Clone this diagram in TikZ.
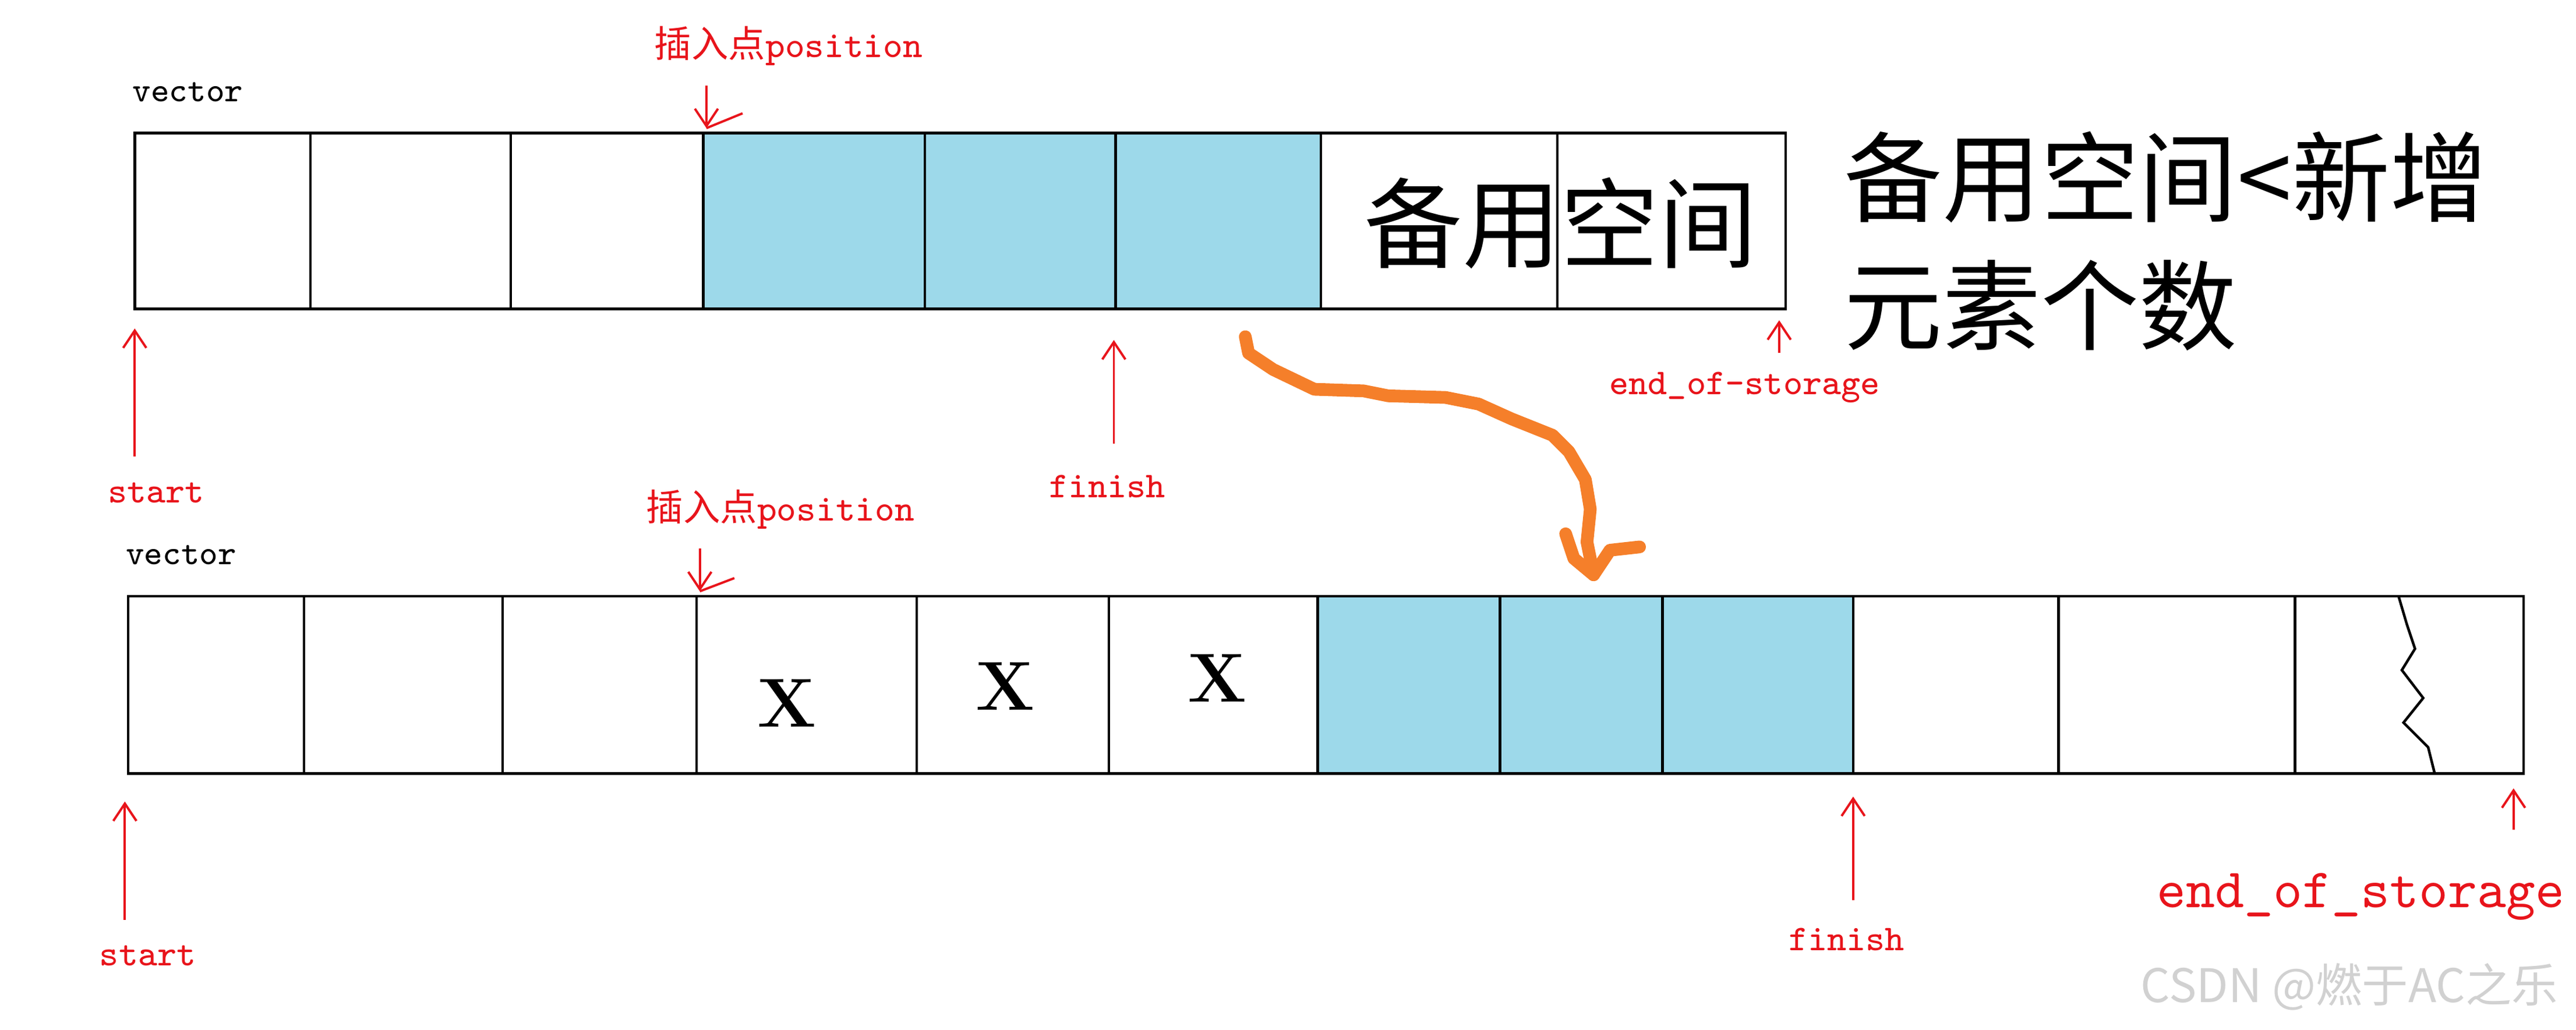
\documentclass[tikz,border=0pt]{standalone}
\usepackage{fontspec}
\newfontfamily\cjk{Noto Sans CJK SC}
\usetikzlibrary{arrows.meta}
\definecolor{cellblue}{HTML}{9DD9EA}
\definecolor{ptr}{HTML}{E8141B}
\definecolor{orng}{HTML}{F57F2A}
\begin{document}
\begin{tikzpicture}[x=0.01cm,y=-0.01cm,
  cell/.style={draw=black,line width=0.45pt},
  lbl/.style={text=ptr,font=\ttfamily\fontsize{6.3}{7}\selectfont,inner sep=0pt},
  ins/.style={text=ptr,font=\fontsize{6.4}{7}\selectfont,inner sep=0pt},
  parr/.style={draw=ptr,line width=0.4pt,-{Straight Barb[length=3pt,width=4pt]}},
  vec/.style={font=\ttfamily\fontsize{6}{7}\selectfont,inner sep=0pt}]
\useasboundingbox (0,0) rectangle (1568,627);
% top row
\fill[cellblue] (428,81) rectangle (804,188);
\foreach \a/\b in {82/189,189/311,311/428,428/563,563/679,679/804,804/948,948/1087}
  \draw[cell] (\a,81) rectangle (\b,188);
\node[font=\cjk\fontsize{17}{20}\selectfont,inner sep=0pt] (spare) at (950,136) {备用空间};
\node[font=\cjk\fontsize{17}{20}\selectfont,inner sep=0pt,anchor=west] (r1) at (1122,108) {备用空间<新增};
\node[font=\cjk\fontsize{17}{20}\selectfont,inner sep=0pt,anchor=west] (r2) at (1122,186) {元素个数};
\node[vec,anchor=west] (v1) at (80,56) {vector};
\node[ins] (i1) at (480,28) {{\cjk 插入点}{\ttfamily position}};
\coordinate (i1a) at (430,52); \coordinate (i1b) at (430,78);
\draw[parr] (i1a) -- (i1b); \draw[ptr,line width=0.4pt] (i1b) -- (452,69);
\coordinate (s1a) at (82,278); \coordinate (s1b) at (82,200);
\draw[parr] (s1a) -- (s1b);
\node[lbl] (s1) at (95,300) {start};
\coordinate (f1a) at (678,270); \coordinate (f1b) at (678,207);
\draw[parr] (f1a) -- (f1b);
\node[lbl] (f1) at (674,296) {finish};
\coordinate (e1a) at (1083,215); \coordinate (e1b) at (1083,195);
\draw[parr] (e1a) -- (e1b);
\node[lbl] (e1) at (1062,236) {end\_of-storage};
% orange
\coordinate (o1) at (758,205); \coordinate (o2) at (970,350);
\draw[orng,line width=2.2pt,line cap=round,line join=round] (o1) -- (760,215) -- (775,225) -- (800,237) -- (830,238) -- (845,241) -- (880,242) -- (900,246) -- (920,255) -- (945,265) -- (955,275) -- (965,292) -- (968,310) -- (966,330) -- (o2);
\draw[orng,line width=2.2pt,line cap=round,line join=round] (953,325) -- (958,340) -- (o2) -- (980,335) -- (998,333);
% bottom row
\fill[cellblue] (802,363) rectangle (1128,471);
\foreach \a/\b in {78/185,185/306,306/424,424/558,558/675,675/802,802/913,913/1012,1012/1128,1128/1253,1253/1397,1397/1536}
  \draw[cell] (\a,363) rectangle (\b,471);
\draw[line width=0.45pt] (1460,363) -- (1465,380) -- (1470,395) -- (1462,408) -- (1475,425) -- (1463,440) -- (1478,455) -- (1482,471);
\foreach \n/\x/\y in {xa/479/428,xb/612/418,xc/741/413}
  \node[font=\bfseries\fontsize{12}{14}\selectfont,inner sep=0pt] (\n) at (\x,\y) {X};
\node[vec,anchor=west] (v2) at (76,338) {vector};
\node[ins] (i2) at (475,310) {{\cjk 插入点}{\ttfamily position}};
\coordinate (i2a) at (426,334); \coordinate (i2b) at (426,360);
\draw[parr] (i2a) -- (i2b); \draw[ptr,line width=0.4pt] (i2b) -- (447,352);
\coordinate (s2a) at (76,560); \coordinate (s2b) at (76,488);
\draw[parr] (s2a) -- (s2b);
\node[lbl] (s2) at (90,582) {start};
\coordinate (f2a) at (1128,548); \coordinate (f2b) at (1128,485);
\draw[parr] (f2a) -- (f2b);
\node[lbl] (f2) at (1124,572) {finish};
\coordinate (e2a) at (1530,505); \coordinate (e2b) at (1530,480);
\draw[parr] (e2a) -- (e2b);
\node[text=ptr,font=\ttfamily\fontsize{9.6}{11}\selectfont,inner sep=0pt] (e2) at (1437,546) {end\_of\_storage};
\node[text=black!18,font=\cjk\fontsize{8}{10}\selectfont,inner sep=0pt] (wm) at (1430,601) {CSDN @燃于AC之乐};
\end{tikzpicture}
\end{document}
